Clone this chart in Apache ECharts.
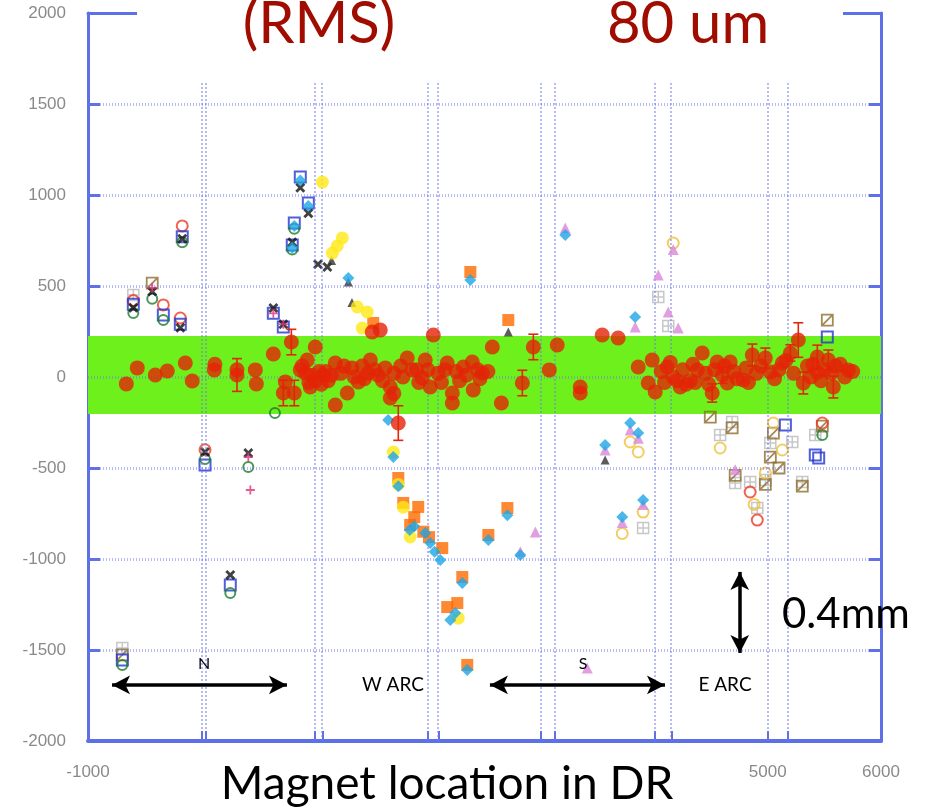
<!DOCTYPE html>
<html><head><meta charset="utf-8">
<script src="https://cdn.jsdelivr.net/npm/echarts/dist/echarts.min.js"></script>
<style>html,body{margin:0;padding:0;background:#fff}#c{width:926px;height:812px}</style>
</head><body><div id="c"></div>
<script>
// ---- axis / grid values ----
const xTickValues = [-1000, 0, 1000, 2000, 3000, 4000, 5000, 6000];
const yTickValues = [-2000, -1500, -1000, -500, 0, 500, 1000, 1500, 2000];
const yGridValues = [-1500, -1000, -500, 0, 500, 1000, 1500];
const xGridValues = [0, 1000, 2000, 3000, 4000, 5000];
const sectionX = [42, 1065, 2089, 3122, 4146, 5179];
const bandLow = -203, bandHigh = 225;

// ---- data series (x = magnet location, y = offset in um) ----
const corrected = [[-662,-38],[-565,50],[-406,11],[-300,33],[-141,77],[-80,-22],[115,39],[120,70],[315,11],[315,40],[477,39],[486,-38],[636,126],[795,192],[724,-88],[821,-88],[742,-27],[874,39],[935,93],[962,-55],[1006,165],[890,60],[920,20],[950,-30],[980,10],[1010,-20],[1040,30],[1060,-40],[1080,10],
[1100,30],[1120,-20],[1150,10],[1183,77],[1183,-154],[1230,20],[1260,60],[1289,-88],[1330,50],[1350,0],[1386,-27],[1420,60],[1440,-10],[1470,20],[1492,93],[1509,247],[1530,40],[1560,10],[1580,258],[1600,-20],[1624,50],[1668,-55],[1668,-115],[1700,-90],[1700,20],[1739,-253],[1760,60],[1780,0],[1818,104],[1862,39],[1900,40],[1920,-30],[1950,-5],[1977,93],[2000,40],[2021,-55],[2048,231],[2090,20],[2120,-30],[2150,40],[2171,77],[2216,-88],[2216,-143],[2250,30],[2280,-20],[2313,55],[2340,10],[2392,82],[2401,-71],[2440,40],[2460,-10],[2481,22],[2530,30],[2569,165],[2649,-143],[2834,-33],[2931,165],[3072,39],[3142,176],[3345,-55],[3345,-88],[3539,231],[3680,214],
[3857,55],[3945,-33],[3980,93],[4007,-82],[4060,30],[4090,-30],[4113,55],[4140,80],[4166,0],[4200,-20],[4228,-55],[4250,40],[4280,-40],[4316,-20],[4340,70],[4360,-30],[4378,39],[4422,132],[4450,20],[4480,-40],[4510,-88],[4530,40],[4554,82],[4600,10],[4620,60],[4643,-33],[4669,82],[4700,30],[4730,-10],[4784,-16],[4810,50],[4830,-30],[4864,121],[4900,20],[4940,60],[4979,104],[5023,27],[5060,-10],[5100,40],[5129,77],[5160,90],[5200,132],[5230,20],[5270,203],[5314,-33],[5350,60],[5380,0],[5400,70],[5438,110],[5438,27],[5470,-20],[5500,40],[5535,93],[5560,20],[5579,-55],[5600,60],[5641,70],[5680,0],[5711,39],[5750,30]];
const errorBars = [[315,11,90],[795,192,70],[724,-88,70],[821,-88,70],[1739,-253,95],[2834,-33,70],[2931,165,70],[4510,-88,50],[4864,121,60],[4979,104,55],[5200,132,45],[5270,203,95],[5314,-33,60],[5438,110,65],[5535,93,55],[5579,-55,60],[4600,10,45]];
const orangeSq = [[1518,297],[1739,-555],[1783,-692],[1844,-813],[1880,-770],[1915,-714],[1960,-850],[2010,-880],[2127,-940],[2171,-1264],[2260,-1242],[2304,-1099],[2348,-1582],[2375,577],[2534,-868],[2702,-720],[2710,313]];
const cyanDia = [[821,830],[803,710],[874,1080],[945,940],[1298,544],[1650,-236],[1695,-440],[1739,-600],[1840,-840],[1880,-820],[1977,-857],[2021,-912],[2060,-960],[2110,-1005],[2198,-1335],[2242,-1297],[2304,-1132],[2348,-1610],[2375,533],[2534,-896],[2702,-760],[2816,-978],[3213,780],[3565,-374],[3716,-769],[3786,-253],[3830,330],[3857,-308],[3900,-676]];
const yellowDot = [[1069,1071],[1157,681],[1200,720],[1245,764],[1377,385],[1421,269],[1465,357],[1695,-412],[1739,-590],[1783,-715],[1844,-879],[2268,-1325]];
const pinkTri = [[2816,-960],[2949,-852],[3213,819],[3407,-1599],[3565,-401],[3716,-800],[3786,-291],[3830,275],[3857,-336],[3900,-700],[4034,560],[4122,357],[4166,700],[4210,269],[4713,-510]];
const darkTri = [[1298,522],[2710,247],[3565,-456],[1150,640],[1330,410]];
const blackX = [[-600,380],[-433,470],[-185,270],[-168,760],[33,-412],[256,-1088],[415,-418],[636,379],[724,290],[803,740],[874,1040],[945,900],[1113,604],[1030,620]];
const greenRing = [[-697,-1582],[-600,352],[-433,430],[-335,313],[-168,740],[33,-450],[256,-1187],[415,-494],[650,-198],[803,700],[821,815],[5482,-319]];
const blueSq = [[-697,-1555],[-600,400],[-335,340],[-185,290],[-168,770],[33,-484],[256,-1143],[636,350],[724,275],[803,725],[821,846],[874,1099],[945,956],[5156,-264],[5420,-428],[5450,-445],[5526,220]];
const redRing = [[-600,420],[-335,396],[-185,324],[-168,830],[33,-400],[4845,-632],[4908,-786],[5482,-253]];
const graySq = [[-697,-1489],[-600,451],[3900,-830],[4034,440],[4122,280],[4580,-319],[4686,-247],[4713,-582],[4845,-577],[4908,-720],[4979,-566],[5023,-363],[5217,-357],[5305,-577],[5420,-319]];
const brownSq = [[-697,-1527],[-433,516],[4493,-220],[4686,-280],[4713,-540],[4979,-590],[5023,-440],[5050,-308],[5100,-500],[5305,-600],[5482,-270],[5526,313]];
const yellowRing = [[3716,-860],[3786,-357],[3857,-412],[3900,-742],[4166,736],[4580,-390],[4880,-700],[4979,-527],[5050,-253],[5129,-401]];
const magentaCross = [[-433,490],[415,-440],[433,-621],[636,350],[724,290]];

// annotation arrows (data coords, tip to tip)
const arrowN = [[-788,-1692],[756,-1692]];
const arrowS = [[2548,-1692],[4093,-1692]];
const arrowV = [[4753,-1071],[4753,-1516]];

const AXIS = '#5d70e6';
const GRID = 'rgba(110,118,235,0.5)';
const LABEL = {show:true, color:'#8a8a8a', fontSize:17, fontFamily:'Liberation Sans', formatter:v=>String(v)};
const chart = echarts.init(document.getElementById('c'), null, {renderer:'canvas'});

function sc(name, data, symbol, size, style, z){
  return {type:'scatter', name, data, symbol, symbolSize:size, itemStyle:style, z, silent:true, animation:false};
}
const X_PATH = 'path://M0,2L2,0L5,3L8,0L10,2L7,5L10,8L8,10L5,7L2,10L0,8L3,5Z';
const PLUS_PATH = 'path://M4,0H6V4H10V6H6V10H4V6H0V4H4Z';
const GRIDSQ_PATH = 'path://M0,0H10V10H0ZM5,0V10M0,5H10';
const DIAGSQ_PATH = 'path://M0,0H10V10H0ZM0,10L10,0';

const option = {
  animation:false,
  backgroundColor:'#fff',
  grid:{left:88, right:45, top:13, bottom:71, containLabel:false},
  xAxis:[
    {type:'value', min:-1000, max:6000, interval:1000, position:'bottom',
     axisLine:{show:true, onZero:false, lineStyle:{color:AXIS, width:4}},
     axisTick:{show:true, inside:true, length:10, lineStyle:{color:AXIS, width:2}},
     axisLabel:Object.assign({margin:23}, LABEL),
     splitLine:{show:false}},
    {type:'value', min:-1000, max:6000, position:'top',
     axisLine:{show:true, onZero:false, lineStyle:{color:AXIS, width:3}},
     axisTick:{show:false}, axisLabel:{show:false}, splitLine:{show:false}},
    {type:'value', min:-1014, max:5800, position:'bottom',
     axisLine:{show:false, onZero:false},
     axisTick:{show:true, inside:true, length:10, lineStyle:{color:AXIS, width:2}, customValues:[0,1000,2000,3000,4000,5000]},
     axisLabel:{show:false}, splitLine:{show:false}}
  ],
  yAxis:[
    {type:'value', min:-2000, max:2000, interval:500, position:'left',
     axisLine:{show:true, onZero:false, lineStyle:{color:AXIS, width:3}},
     axisTick:{show:true, inside:true, length:12, lineStyle:{color:AXIS, width:3}},
     axisLabel:Object.assign({margin:22}, LABEL),
     splitLine:{show:false}},
    {type:'value', min:-2000, max:2000, interval:500, position:'right',
     axisLine:{show:true, onZero:false, lineStyle:{color:AXIS, width:3}},
     axisTick:{show:true, inside:true, length:12, lineStyle:{color:AXIS, width:3}},
     axisLabel:{show:false}, splitLine:{show:false}}
  ],
  series:[
    {type:'scatter', name:'band', data:[], z:1, silent:true,
     markArea:{silent:true, itemStyle:{color:'#6ef01c', opacity:1},
       data:[[{xAxis:-1000, yAxis:bandLow},{xAxis:6000, yAxis:bandHigh}]]}},
    {type:'scatter', name:'grid', data:[], z:2, silent:true,
     markLine:{silent:true, symbol:'none', label:{show:false}, animation:false,
       lineStyle:{color:GRID, width:3, type:[1,2]},
       data: yGridValues.map(v=>({yAxis:v})).concat(
             xGridValues.map(v=>({xAxis:v, lineStyle:{color:GRID, width:2, type:[2,2]}})),
             sectionX.map(v=>({xAxis:v, lineStyle:{color:GRID, width:2, type:[2,2]}})))}},
    sc('graySq', graySq, GRIDSQ_PATH, 11, {color:'rgba(0,0,0,0)', borderColor:'#b9b9b9', borderWidth:1.5}, 3),
    sc('brownSq', brownSq, DIAGSQ_PATH, 11, {color:'rgba(0,0,0,0)', borderColor:'#8c6b2a', borderWidth:1.8}, 3),
    sc('yellowRing', yellowRing, 'circle', 11, {color:'rgba(0,0,0,0)', borderColor:'#f0c13c', borderWidth:2}, 3),
    sc('redRing', redRing, 'circle', 11, {color:'rgba(0,0,0,0)', borderColor:'#ee3a24', borderWidth:2}, 3),
    sc('blueSq', blueSq, 'rect', 11, {color:'rgba(0,0,0,0)', borderColor:'#2436d0', borderWidth:2}, 3),
    sc('greenRing', greenRing, 'circle', 10, {color:'rgba(0,0,0,0)', borderColor:'#1d7a2e', borderWidth:2}, 4),
    sc('blackX', blackX, X_PATH, 10, {color:'#111'}, 4),
    sc('darkTri', darkTri, 'triangle', 9, {color:'#333'}, 4),
    sc('orangeSq', orangeSq, 'rect', 12, {color:'#ff6a00'}, 5),
    sc('yellowDot', yellowDot, 'circle', 13, {color:'#ffe815'}, 5),
    sc('pinkTri', pinkTri, 'triangle', 11, {color:'#d987d9'}, 5),
    sc('cyanDia', cyanDia, 'diamond', 12, {color:'#1ea6e6'}, 6),
    sc('magentaCross', magentaCross, PLUS_PATH, 9, {color:'#e0307a'}, 6),
    {type:'custom', name:'errors', z:9, silent:true, data:errorBars, encode:{x:0, y:1},
     renderItem:function(params, api){
       const x=api.value(0), y=api.value(1), e=api.value(2);
       const top=api.coord([x,y+e]), bot=api.coord([x,y-e]);
       const hw=5, st={stroke:'#e3250a', lineWidth:1.6};
       return {type:'group', children:[
         {type:'line', shape:{x1:top[0],y1:top[1],x2:bot[0],y2:bot[1]}, style:st},
         {type:'line', shape:{x1:top[0]-hw,y1:top[1],x2:top[0]+hw,y2:top[1]}, style:st},
         {type:'line', shape:{x1:bot[0]-hw,y1:bot[1],x2:bot[0]+hw,y2:bot[1]}, style:st}]};
     }},
    sc('corrected', corrected, 'circle', 15, {color:'#e42306'}, 10),
    {type:'scatter', name:'arrows', data:[], z:20, silent:true,
     markLine:{silent:true, symbol:['arrow','arrow'], symbolSize:[14,18], label:{show:false}, animation:false,
       lineStyle:{color:'#000', width:3.5, type:'solid'},
       data:[[{coord:arrowN[0]},{coord:arrowN[1]}],[{coord:arrowS[0]},{coord:arrowS[1]}],[{coord:arrowV[0]},{coord:arrowV[1]}]]}}
  ],
  graphic:[
    {type:'rect', z:100, shape:{x:137, y:0, width:706, height:83}, style:{fill:'#fff'}},
    {type:'text', z:101, style:{text:'(RMS)', x:319, y:24, textAlign:'center', textVerticalAlign:'middle', fill:'#a00c00', font:'58px Lato'}},
    {type:'text', z:101, style:{text:'80 um', x:688, y:24, textAlign:'center', textVerticalAlign:'middle', fill:'#a00c00', font:'58px Lato'}},
    {type:'rect', z:100, shape:{x:190, y:755, width:505, height:57}, style:{fill:'#fff'}},
    {type:'text', z:101, style:{text:'Magnet location in DR', x:447, y:784, textAlign:'center', textVerticalAlign:'middle', fill:'#000', font:'46px Lato'}},
    {type:'text', z:101, style:{text:'0.4mm', x:782, y:614, textAlign:'left', textVerticalAlign:'middle', fill:'#000', font:'42px Lato'}},
    {type:'text', z:101, style:{text:'N', x:204, y:664, textAlign:'center', textVerticalAlign:'middle', fill:'#000', font:'16px Lato'}},
    {type:'text', z:101, style:{text:'W ARC', x:393, y:685, textAlign:'center', textVerticalAlign:'middle', fill:'#000', font:'19px Lato'}},
    {type:'text', z:101, style:{text:'S', x:583, y:664, textAlign:'center', textVerticalAlign:'middle', fill:'#000', font:'16px Lato'}},
    {type:'text', z:101, style:{text:'E ARC', x:725, y:685, textAlign:'center', textVerticalAlign:'middle', fill:'#000', font:'19px Lato'}}
  ]
};
chart.setOption(option);
</script></body></html>
